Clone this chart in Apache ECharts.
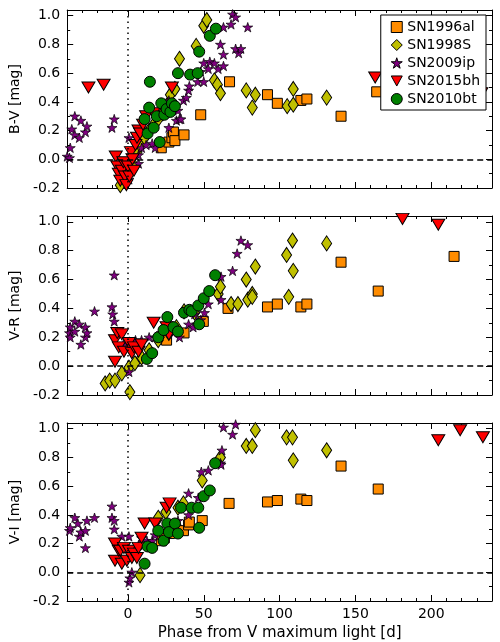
<!DOCTYPE html>
<html>
<head>
<meta charset="utf-8">
<script src="https://cdn.jsdelivr.net/npm/echarts@6/dist/echarts.min.js"></script>
<style>
  html, body { margin: 0; padding: 0; background: #fff; }
  #main { width: 500px; height: 642px; }
</style>
</head>
<body>
<div id="main"></div>
<script>
// supernova names, same order as the legend
let snNames = ["SN1996al", "SN1998S", "SN2009ip", "SN2015bh", "SN2010bt"];
let panelNames = ["B-V [mag]", "V-R [mag]", "V-I [mag]"];
let xTicks = [0, 50, 100, 150, 200];
let yTicks = [-0.2, 0.0, 0.2, 0.4, 0.6, 0.8, 1.0];

// B-V  [phase, colour]
let bv96al = [[22,0.08],[27,0.12],[29,0.15],[30,0.19],[31,0.13],[37,0.17],[48,0.31],[67,0.54],[92,0.45],[98.5,0.39],[114,0.41],[118,0.42],[140.5,0.30],[164,0.47]];
let bv98S = [[-5,-0.18],[0,-0.1],[3,-0.03],[6,0.05],[8,0.10],[11,0.15],[14,0.20],[17,0.24],[20,0.28],[23,0.32],[26,0.38],[28,0.45],[31,0.49],[34,0.70],[45,0.79],[50,0.93],[52,0.97],[57,0.55],[59,0.52],[61,0.46],[78,0.48],[82,0.36],[84,0.45],[105,0.37],[109,0.38],[109,0.49],[131,0.43]];
let bv09ip = [[-40,0.02],[-38.5,0.01],[-38,0.08],[-37,0.21],[-35,0.30],[-35,0.17],[-32,0.15],[-31,0.27],[-28,0.19],[-27,0.23],[-10.5,0.22],[-9,0.28],
  [0.7,0.15],[0.7,-0.14],[7,-0.03],[7,0.03],[9,0.08],[12,0.10],[16,0.11],[18,0.08],[27,0.22],[27,0.41],[29,0.36],[32,0.27],[33,0.34],[34,0.28],[35,0.28],
  [36.6,0.41],[38.5,0.43],[40,0.48],[40.5,0.51],[46,0.54],[48,0.61],[50,0.54],[50,0.67],[53,0.63],[54,0.68],[57,0.67],[59.5,0.63],[63,0.65],
  [61,0.80],[63,0.73],[71,0.77],[73,0.74],[74.5,0.77],[63,0.92],[68,0.94],[69,1.01],[71,0.99],[79,0.92]];
let bv15bh = [[-26,0.50],[-16,0.52],[-8,0.02],[-7,-0.05],[-6,-0.10],[-5,-0.15],[-4,-0.08],[-3,-0.02],[-2,-0.12],[-1,-0.18],[0,-0.05],[1,-0.12],[2,0.05],[3,0.00],[4,-0.08],[5,0.10],[6,0.15],[7,0.20],[8,0.18],[10,0.24],[12,0.30],[17,0.32],[29,0.50],[163,0.57],[233,0.46]];
let bv10bt = [[11,0.28],[13,0.18],[14,0.36],[14.5,0.54],[17,0.22],[19,0.30],[21,0.12],[22,0.39],[24,0.31],[25.5,0.35],[28,0.33],[29,0.39],[31,0.37],[33,0.60],[41,0.59],[46,0.60],[47,0.75],[54,0.86],[58,0.91]];

// V-R
let vr96al = [[25.5,0.18],[37,0.23],[49.7,0.31],[66,0.40],[92,0.41],[98.5,0.43],[114,0.41],[118,0.43],[140.5,0.72],[165,0.52],[215,0.76]];
let vr98S = [[-15,-0.12],[-12,-0.10],[-8.5,-0.10],[-4,-0.05],[0.7,-0.01],[1.3,-0.18],[4.6,0.02],[9,0.06],[14,0.11],[20,0.18],[27,0.23],[32,0.27],[37,0.38],[44,0.37],[59.5,0.50],[61,0.55],[68,0.43],[72.5,0.43],[79,0.46],[82,0.50],[82,0.48],[78,0.60],[84,0.69],[104.6,0.77],[106,0.48],[108.5,0.87],[109,0.66],[131,0.85]];
let vr09ip = [[-38.5,0.23],[-38,0.27],[-38,0.20],[-35,0.31],[-35,0.24],[-32,0.29],[-31,0.15],[-28,0.27],[-28,0.20],[-27,0.23],[-22,0.38],[-10.5,0.41],[-10,0.36],[-9,0.31],[-9,0.63],
  [-3,0.15],[1,0.17],[0.7,-0.04],[5,0.18],[9,0.18],[14,0.20],[18,0.20],[22,0.23],[27,0.25],[31,0.24],[34,0.20],[40,0.29],[43,0.27],[44,0.36],[48,0.32],[50.5,0.37],[53,0.43],[61.4,0.46],[61.4,0.62],[69,0.66],[72,0.78],[74.5,0.87],[79,0.84]];
let vr15bh = [[-8.5,0.18],[-8.5,0.03],[-7,0.23],[-6,0.13],[-4,0.22],[-2.6,0.10],[0.7,0.16],[2.6,0.09],[4,0.13],[7,0.10],[9,0.15],[17,0.30],[25.5,0.27],[27,0.22],[181,1.02],[204.6,0.98]];
let vr10bt = [[12.5,0.05],[16,0.09],[20,0.20],[23.5,0.25],[26,0.34],[30,0.27],[33,0.24],[37,0.37],[40.5,0.39],[42,0.38],[46.4,0.42],[47,0.29],[50,0.47],[53.6,0.52],[57.5,0.63]];

// V-I
let vi96al = [[22,0.22],[24,0.24],[27.5,0.27],[32,0.29],[36.6,0.29],[40,0.33],[40.5,0.35],[49,0.36],[66.7,0.48],[92,0.49],[98.5,0.50],[114,0.51],[118,0.50],[140.5,0.74],[165,0.58]];
let vi98S = [[8,-0.02],[20,0.38],[25,0.42],[33,0.45],[36.6,0.48],[49,0.64],[61,0.80],[78,0.88],[82,0.88],[84,0.99],[104.6,0.94],[108.5,0.94],[109,0.78],[131,0.85]];
let vi09ip = [[-38.5,0.29],[-38,0.31],[-35,0.38],[-33,0.34],[-32,0.25],[-31,0.28],[-28,0.29],[-28,0.17],[-27,0.36],[-22,0.38],[-10.5,0.46],[-10.5,0.38],[-9,0.36],[-9,0.30],
  [-4,0.25],[0.7,0.25],[0.7,-0.07],[1.3,-0.04],[2.6,0.0],[4.6,0.15],[7,0.19],[9,0.24],[12.5,0.22],[16,0.22],[18,0.26],[33,0.36],[40,0.40],[40,0.55],[46.4,0.52],[48.4,0.70],[53,0.71],[61,0.76],[61.4,0.75],[62,0.85],[63,1.01],[69,0.96],[71,1.03]];
let vi15bh = [[-8.5,0.20],[-8.5,0.08],[-6,0.15],[-5,0.15],[-4,0.06],[-2.6,0.17],[-0.7,0.08],[0.7,0.15],[2.6,0.10],[4,0.13],[5.9,0.10],[7,0.17],[9,0.24],[11,0.34],[18,0.34],[25.5,0.45],[27.5,0.48],[204.6,0.92],[219,0.99],[234,0.94]];
let vi10bt = [[11,0.06],[13,0.18],[16,0.17],[20,0.29],[23.5,0.22],[26,0.34],[27,0.28],[31,0.34],[33,0.27],[35,0.45],[42,0.45],[46.4,0.45],[47,0.31],[50,0.53],[54,0.57],[57.5,0.76]];

let panelData = [
    [bv96al, bv98S, bv09ip, bv15bh, bv10bt],
    [vr96al, vr98S, vr09ip, vr15bh, vr10bt],
    [vi96al, vi98S, vi09ip, vi15bh, vi10bt]
];

let starPath = 'path://M0,-1L0.2245,-0.309L0.951,-0.309L0.363,0.118L0.588,0.809L0,0.382L-0.588,0.809L-0.363,0.118L-0.951,-0.309L-0.2245,-0.309Z';
let downTri = 'path://M0,0L12,0L6,11Z';
// marker style per supernova
let markers = [
    {symbol: 'rect', size: 10, color: '#ff8c00', border: 1, rotate: 0},
    {symbol: 'diamond', size: [10, 15], color: '#c0c000', border: 1, rotate: 0},
    {symbol: starPath, size: 10, color: '#800080', border: 0.7, rotate: 0},
    {symbol: downTri, size: [13, 12], color: '#ff0000', border: 1, rotate: 0},
    {symbol: 'circle', size: 11, color: '#008000', border: 1, rotate: 0}
];
let legendIconSize = [10, 11, 8, 11, 11];

let font = 'DejaVu Sans';
let X_MIN = -40, X_MAX = 240, Y_MIN = -0.2, Y_MAX = 1.04;
let grids = [
    {left: 64, right: 8, top: 10, height: 178},
    {left: 64, right: 8, top: 216, height: 179},
    {left: 64, right: 8, top: 423, height: 178}
];

let xAxes = [];
let yAxes = [];
let series = [];
let black = {color: '#000', width: 1};

for (let g = 0; g < 3; g++) {
    let isLast = g === 2;
    ['bottom', 'top'].forEach(function (pos) {
        // major ticks
        xAxes.push({
            gridIndex: g, type: 'value', min: X_MIN, max: X_MAX, position: pos,
            axisLine: {show: true, onZero: false, lineStyle: black},
            axisTick: {show: true, inside: true, length: 6, customValues: xTicks, lineStyle: black},
            axisLabel: {show: isLast && pos === 'bottom', customValues: xTicks, color: '#000', fontSize: 14, fontFamily: font, margin: 6},
            splitLine: {show: false},
            name: (isLast && pos === 'bottom') ? 'Phase from V maximum light [d]' : '',
            nameLocation: 'middle', nameGap: 25,
            nameTextStyle: {color: '#000', fontSize: 15, fontFamily: font}
        });
        // minor ticks
        xAxes.push({
            gridIndex: g, type: 'value', min: X_MIN, max: X_MAX, interval: 10, position: pos,
            axisLine: {show: false, onZero: false},
            axisTick: {show: true, inside: true, length: 3, lineStyle: black},
            axisLabel: {show: false},
            splitLine: {show: false}
        });
    });
    ['left', 'right'].forEach(function (pos) {
        yAxes.push({
            gridIndex: g, type: 'value', min: Y_MIN, max: Y_MAX, position: pos,
            axisLine: {show: true, onZero: false, lineStyle: black},
            axisTick: {show: true, inside: true, length: 6, customValues: yTicks, lineStyle: black},
            axisLabel: {show: pos === 'left', customValues: yTicks, color: '#000', fontSize: 14, fontFamily: font, margin: 7,
                formatter: function (v) { return v.toFixed(1); }},
            splitLine: {show: false},
            name: pos === 'left' ? panelNames[g] : '',
            nameLocation: 'middle', nameGap: 43,
            nameTextStyle: {color: '#000', fontSize: 14, fontFamily: font}
        });
        yAxes.push({
            gridIndex: g, type: 'value', min: Y_MIN, max: Y_MAX, interval: 0.1, position: pos,
            axisLine: {show: false, onZero: false},
            axisTick: {show: true, inside: true, length: 3, lineStyle: black},
            axisLabel: {show: false},
            splitLine: {show: false}
        });
    });

    for (let s = 0; s < snNames.length; s++) {
        let m = markers[s];
        let ser = {
            name: snNames[s],
            type: 'scatter',
            xAxisIndex: g * 4,
            yAxisIndex: g * 4,
            data: panelData[g][s],
            symbol: m.symbol,
            symbolSize: m.size,
            symbolKeepAspect: true,
            itemStyle: {color: m.color, borderColor: '#000', borderWidth: m.border, opacity: 1},
            emphasis: {disabled: true},
            animation: false
        };
        if (s === 0) {
            ser.markLine = {
                silent: true, symbol: ['none', 'none'], animation: false,
                label: {show: false},
                data: [
                    {yAxis: 0, lineStyle: {color: '#000', width: 1.5, type: [6, 4]}},
                    {xAxis: 0, lineStyle: {color: '#000', width: 1.5, type: [1.5, 4]}}
                ]
            };
        }
        series.push(ser);
    }
}

let legendData = snNames.map(function (n, i) {
    return {name: n, icon: markers[i].symbol, itemStyle: {borderWidth: 1}};
});

let myChart = echarts.init(document.getElementById('main'), null, {renderer: 'canvas'});
myChart.setOption({
    animation: false,
    backgroundColor: '#fff',
    grid: grids,
    xAxis: xAxes,
    yAxis: yAxes,
    legend: {
        data: legendData,
        orient: 'vertical',
        right: 14, top: 15,
        backgroundColor: '#fff',
        borderColor: '#000', borderWidth: 1,
        padding: [5, 6, 4, 10],
        itemWidth: 11, itemHeight: 11, itemGap: 4,
        textStyle: {color: '#000', fontSize: 14, fontFamily: font},
        z: 10
    },
    series: series
});
</script>
</body>
</html>
